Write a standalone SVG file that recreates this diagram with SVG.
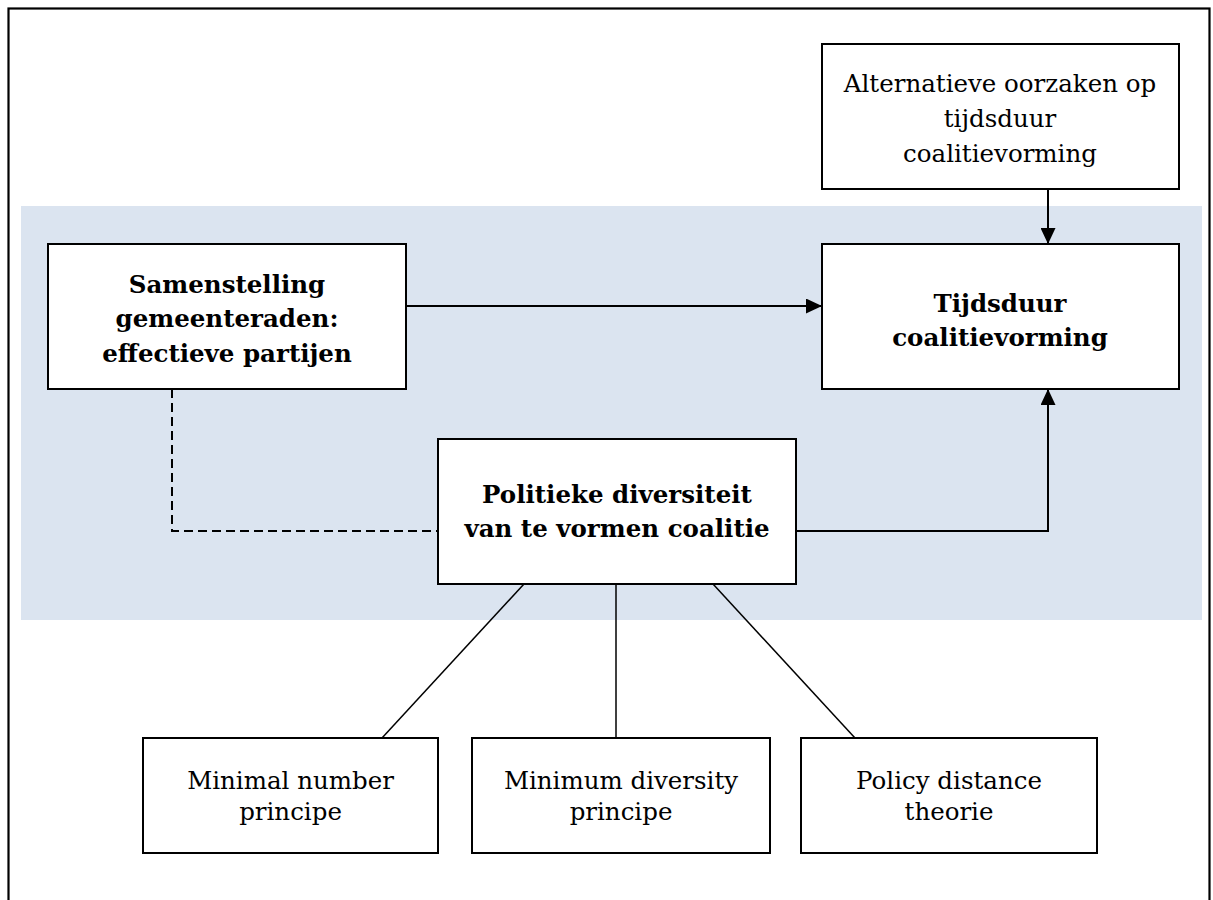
<svg xmlns="http://www.w3.org/2000/svg" width="1213" height="900" viewBox="0 0 1213 900">
<style>
.box{fill:#fff;stroke:#000;stroke-width:2}
.t{font-family:"DejaVu Serif","Liberation Serif",serif;font-size:24.5px;fill:#000;text-anchor:middle}
.b{font-weight:bold}
.c{fill:none;stroke:#000;stroke-width:2}
.thin{fill:none;stroke:#000;stroke-width:1.5}
</style>
<defs>
<marker id="arr" markerUnits="userSpaceOnUse" markerWidth="16" markerHeight="15" refX="16" refY="7.5" orient="auto">
<path d="M0,0 L16,7.5 L0,15 z" fill="#000"/>
</marker>
</defs>
<rect x="0" y="0" width="1213" height="900" fill="#fff"/>
<rect x="8.5" y="8.5" width="1201" height="1000" fill="none" stroke="#000" stroke-width="2.2"/>
<rect x="21" y="206" width="1181" height="414" fill="#DBE4F0"/>
<g id="connectors">
<line class="c" x1="1048" y1="189" x2="1048" y2="244" marker-end="url(#arr)"/>
<line class="c" x1="406" y1="306" x2="822" y2="306" marker-end="url(#arr)"/>
<polyline class="c" points="796,531 1048,531 1048,389" marker-end="url(#arr)"/>
<polyline class="c" points="172,389 172,531 438,531" stroke-dasharray="9,5"/>
<line class="thin" x1="524" y1="584" x2="382" y2="738"/>
<line class="thin" x1="616" y1="584" x2="616" y2="738"/>
<line class="thin" x1="713" y1="584" x2="855" y2="738"/>
</g>
<g id="alternatieve">
<rect class="box" x="822" y="44" width="357" height="145"/>
<text class="t" x="1000" y="92">Alternatieve oorzaken op</text>
<text class="t" x="1000" y="127">tijdsduur</text>
<text class="t" x="1000" y="162">coalitievorming</text>
</g>
<g id="tijdsduur">
<rect class="box" x="822" y="244" width="357" height="145"/>
<text class="t b" x="1000" y="312">Tijdsduur</text>
<text class="t b" x="1000" y="346">coalitievorming</text>
</g>
<g id="samenstelling">
<rect class="box" x="48" y="244" width="358" height="145"/>
<text class="t b" x="227" y="293">Samenstelling</text>
<text class="t b" x="227" y="327">gemeenteraden:</text>
<text class="t b" x="227" y="362">effectieve partijen</text>
</g>
<g id="politieke">
<rect class="box" x="438" y="439" width="358" height="145"/>
<text class="t b" x="617" y="503">Politieke diversiteit</text>
<text class="t b" x="617" y="537">van te vormen coalitie</text>
</g>
<g id="minimal">
<rect class="box" x="143" y="738" width="295" height="115"/>
<text class="t" x="290.5" y="789">Minimal number</text>
<text class="t" x="290.5" y="820">principe</text>
</g>
<g id="minimum">
<rect class="box" x="472" y="738" width="298" height="115"/>
<text class="t" x="621" y="789">Minimum diversity</text>
<text class="t" x="621" y="820">principe</text>
</g>
<g id="policy">
<rect class="box" x="801" y="738" width="296" height="115"/>
<text class="t" x="949" y="789">Policy distance</text>
<text class="t" x="949" y="820">theorie</text>
</g>
</svg>
